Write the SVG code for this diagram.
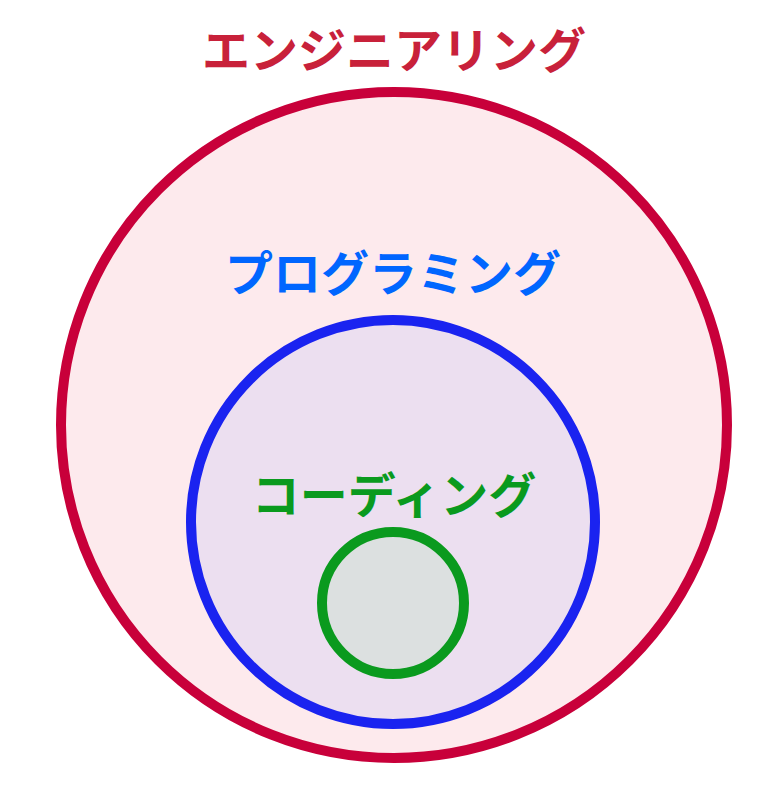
<svg xmlns="http://www.w3.org/2000/svg" width="774" height="798" viewBox="0 0 774 798">
<style>
.lbl{font-family:"Noto Sans CJK JP","Noto Sans",sans-serif;font-weight:bold;font-size:48px;text-anchor:middle}
</style>
<rect width="774" height="798" fill="#ffffff"/>
<g id="engineering">
<circle cx="394" cy="425" r="333" fill="#fdeaed" stroke="#c8003a" stroke-width="10"/>
<text class="lbl" x="394" y="68" fill="#c8213a">エンジニアリング</text>
</g>
<g id="programming">
<circle cx="393" cy="522" r="202" fill="#ecdff0" stroke="#1a23f0" stroke-width="10"/>
<text class="lbl" x="393" y="291" fill="#0066ff">プログラミング</text>
</g>
<g id="coding">
<circle cx="393" cy="603" r="71" fill="#dce0e0" stroke="#0a9a1e" stroke-width="10"/>
<text class="lbl" x="394" y="513" fill="#0a9a1e">コーディング</text>
</g>
<g id="connectors"/>
</svg>
